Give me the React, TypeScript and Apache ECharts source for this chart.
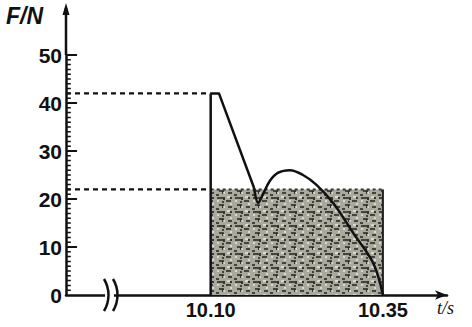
import React, { useEffect, useRef } from "react";
import * as echarts from "echarts";

// ---- data ----
const xLabelValues = [10.1, 10.35];
const riseT = [10.1, 10.1];
const riseF = [0, 42];
const dropT = [10.1, 10.112, 10.163];
const dropF = [42, 42, 22.3];
const curveT = [10.163, 10.169, 10.176, 10.186, 10.198, 10.215, 10.234, 10.254, 10.278, 10.307, 10.336, 10.35];
const curveF = [22.3, 19.2, 21.0, 23.8, 25.5, 26, 25, 22.9, 19.1, 12.9, 6.6, 0];
const avgT = [10.1, 10.35];
const avgF = [22, 22];
const peakF = 42;
const majorTicks = [10, 20, 30, 40, 50];
const minorTicks = [
  1, 2, 3, 4, 5, 6, 7, 8, 9, 11, 12, 13, 14, 15, 16, 17, 18, 19,
  21, 22, 23, 24, 25, 26, 27, 28, 29, 31, 32, 33, 34, 35, 36, 37, 38, 39,
  41, 42, 43, 44, 45, 46, 47, 48, 49,
];
const xMin = 9.89;
const xMax = 10.443;
const yMax = 50;
const majorLen = 0.016;
const minorLen = 0.007;

const pair = (xs: number[], ys: number[]) => xs.map((x, i) => [x, ys[i]]);
const comb = (vals: number[], len: number) => {
  const out: any[] = [];
  vals.forEach((v) => {
    out.push([xMin, v], [xMin + len, v], "-");
  });
  return out;
};

const tileSvg =
  "<svg xmlns='http://www.w3.org/2000/svg' width='18' height='14'>" +
  "<rect width='18' height='14' fill='#a9a99d'/>" +
  "<path d='M1 2h6M10 5h5M3 9h4v3M12 11h4M8 1v3M15 1v2M6 6h2M0 13h3' stroke='#22221c' stroke-width='1.7' fill='none'/>" +
  "<path d='M11 1h3M1 5h2M14 8h2M7 11h2' stroke='#e8e8dc' stroke-width='1.4' fill='none'/>" +
  "</svg>";
const tileUrl = "data:image/svg+xml;charset=utf-8," + encodeURIComponent(tileSvg);

export default function App() {
  const ref = useRef<HTMLDivElement>(null);
  useEffect(() => {
    if (!ref.current) return;
    const chart = echarts.init(ref.current, undefined, { renderer: "svg" });
    const black = "#111";
    const labelFont = "Liberation Sans";
    chart.setOption({
      animation: false,
      backgroundColor: "#fff",
      grid: { left: 66, right: 25, top: 55, bottom: 32, containLabel: false, outerBoundsMode: "none" },
      xAxis: {
        type: "value",
        min: xMin,
        max: xMax,
        splitLine: { show: false },
        axisTick: { show: false },
        axisLine: {
          show: true,
          lineStyle: { color: black, width: 2.5 },
          symbol: ["none", "arrow"],
          symbolSize: [7, 12],
        },
        axisLabel: {
          customValues: xLabelValues,
          formatter: (v: number) => v.toFixed(2),
          color: black,
          fontFamily: labelFont,
          fontWeight: "bold",
          fontSize: 20,
          margin: 5,
        },
      },
      yAxis: {
        type: "value",
        min: 0,
        max: yMax,
        interval: 10,
        splitLine: { show: false },
        axisLine: { show: true, lineStyle: { color: black, width: 2.5 } },
        axisTick: { show: false },
        axisLabel: {
          color: black,
          fontFamily: labelFont,
          fontWeight: "bold",
          fontSize: 21,
          margin: 4,
        },
      },
      series: [
        {
          type: "line",
          data: pair(avgT, avgF),
          symbol: "none",
          lineStyle: { width: 0 },
          areaStyle: {
            color: { image: tileUrl, repeat: "repeat", imageWidth: 18, imageHeight: 14 },
            opacity: 1,
          },
          z: 1,
        },
        {
          type: "line",
          data: pair(avgT, avgF),
          symbol: "none",
          lineStyle: { color: "#333", width: 2, type: [3, 3] },
          z: 2,
        },
        {
          type: "line",
          data: [[avgT[1], avgF[1]], [avgT[1], 0]],
          symbol: "none",
          lineStyle: { color: "#222", width: 2 },
          z: 2,
        },
        {
          type: "line",
          data: [[xMin, peakF], [riseT[0], peakF]],
          symbol: "none",
          lineStyle: { color: black, width: 2.2, type: [5, 4] },
          z: 2,
        },
        {
          type: "line",
          data: [[xMin, avgF[0]], [avgT[0], avgF[0]]],
          symbol: "none",
          lineStyle: { color: black, width: 2.2, type: [5, 4] },
          z: 2,
        },
        {
          type: "line",
          data: pair(riseT, riseF),
          symbol: "none",
          lineStyle: { color: black, width: 2.5 },
          z: 3,
        },
        {
          type: "line",
          data: pair(dropT, dropF),
          symbol: "none",
          lineStyle: { color: black, width: 2.5, join: "round" },
          z: 3,
        },
        {
          type: "line",
          data: pair(curveT, curveF),
          symbol: "none",
          smooth: 0.35,
          lineStyle: { color: black, width: 2.5 },
          z: 3,
        },
        {
          type: "line",
          data: comb(majorTicks, majorLen),
          symbol: "none",
          connectNulls: false,
          lineStyle: { color: black, width: 2.2 },
          silent: true,
          z: 6,
        },
        {
          type: "line",
          data: comb(minorTicks, minorLen),
          symbol: "none",
          connectNulls: false,
          lineStyle: { color: black, width: 1.5 },
          silent: true,
          z: 6,
        },
      ],
    });

    const top = chart.convertToPixel({ gridIndex: 0 }, [xMin, yMax]) as number[];
    const org = chart.convertToPixel({ gridIndex: 0 }, [xMin, 0]) as number[];
    const end = chart.convertToPixel({ gridIndex: 0 }, [xMax, 0]) as number[];
    const ax = top[0];
    const ay = org[1];
    const bx = ax + 38;

    chart.setOption({
      graphic: [
        { type: "line", shape: { x1: ax, y1: top[1], x2: ax, y2: 8 }, style: { stroke: black, lineWidth: 2.5 } },
        {
          type: "polygon",
          shape: { points: [[ax, 3], [ax - 3.5, 15], [ax + 3.5, 15]] },
          style: { fill: black },
        },
        { type: "rect", shape: { x: bx + 1, y: ay - 3, width: 9, height: 6 }, style: { fill: "#fff" }, z: 10 },
        {
          type: "bezierCurve",
          shape: { x1: bx, y1: ay - 16, x2: bx, y2: ay + 16, cpx1: bx + 6, cpy1: ay - 6, cpx2: bx + 6, cpy2: ay + 6 },
          style: { stroke: black, lineWidth: 2.5, fill: null },
          z: 11,
        },
        {
          type: "bezierCurve",
          shape: { x1: bx + 9, y1: ay - 16, x2: bx + 9, y2: ay + 16, cpx1: bx + 15, cpy1: ay - 6, cpx2: bx + 15, cpy2: ay + 6 },
          style: { stroke: black, lineWidth: 2.5, fill: null },
          z: 11,
        },
        {
          type: "text",
          x: 6,
          y: 4,
          style: { text: "F/N", fill: black, font: "italic bold 23px 'Liberation Sans'" },
        },
        {
          type: "text",
          x: end[0] - 10,
          y: ay + 4,
          style: { text: "t/s", fill: black, font: "italic 18px 'Liberation Serif'" },
        },
      ],
    });
    return () => chart.dispose();
  }, []);
  return <div ref={ref} style={{ position: "fixed", left: 0, top: 0, width: 472, height: 327 }} />;
}
